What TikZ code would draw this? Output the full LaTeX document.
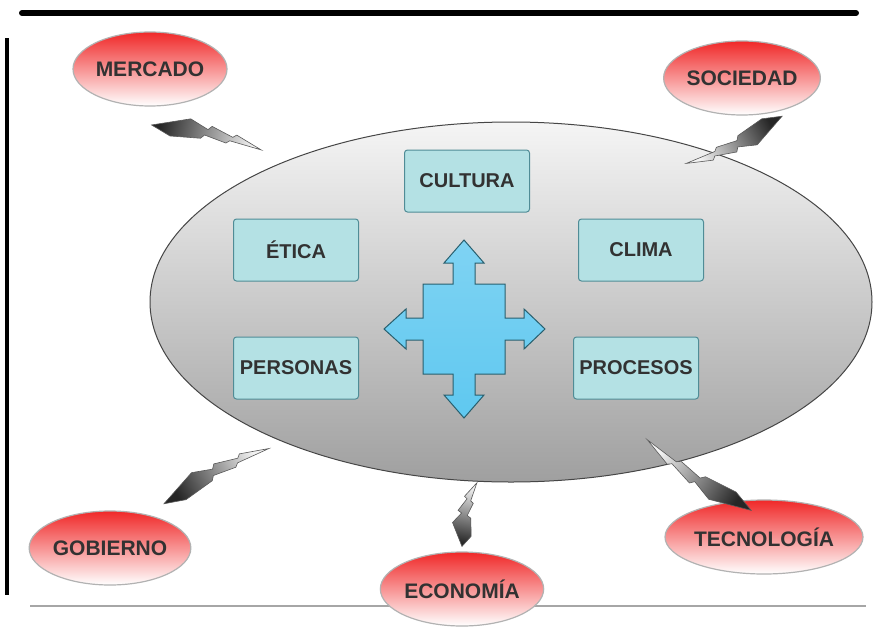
\documentclass[tikz,border=0pt]{standalone}
\usepackage{fontspec}
\setmainfont{Liberation Sans}
\usetikzlibrary{calc,shapes.geometric}

\definecolor{redtop}{RGB}{240,40,40}
\definecolor{redmid}{RGB}{250,175,175}
\definecolor{boxfill}{RGB}{180,225,228}
\definecolor{boxline}{RGB}{80,140,150}
\definecolor{crossfill}{RGB}{95,200,240}
\definecolor{crossline}{RGB}{40,95,110}
\definecolor{txt}{RGB}{50,50,50}

% lightning bolt from #1 (thick end) to #2 (tip)
\newcommand\bolt[2]{%
  \path let \p1=($(#2)-(#1)$) in \pgfextra{%
    \pgfmathsetmacro\bang{atan2(\y1,\x1)}%
    \pgfmathsetmacro\bu{veclen(\x1,\y1)/10}%
    \xdef\boltang{\bang}\xdef\boltu{\bu}};
  \pgfmathsetmacro\boltsh{\boltang-90}
  \begin{scope}[shift={(#1)},rotate=\boltang,x=\boltu pt,y=1pt]
    \draw[draw=gray!70!black,line width=0.6pt,
          top color=gray!10,bottom color=black!85,shading angle=\boltsh]
      (0,-2) -- (3.3,12) -- (5.0,5) -- (5.3,9) -- (7.3,2.5) -- (7.6,5.5)
      -- (10,-4) -- (7.1,-1.5) -- (6.8,-4.5) -- (4.8,-1) -- (4.5,-5)
      -- (1.8,-9) -- cycle;
  \end{scope}}

\begin{document}
\begin{tikzpicture}[x=1pt,y=-1pt,
    org/.style = {ellipse, draw=gray!55!black, line width=1pt,
                  top color=gray!8, bottom color=gray!75,
                  minimum width=722pt, minimum height=360pt},
    force/.style = {ellipse, draw=gray!60, line width=1.2pt,
                    top color=redtop, middle color=redmid, bottom color=white,
                    minimum width=154pt, minimum height=74pt, inner sep=0pt,
                    text=txt, font=\fontsize{21}{24}\selectfont\bfseries},
    factor/.style = {rectangle, rounded corners=3pt, draw=boxline,
                     line width=1pt, fill=boxfill,
                     minimum width=125pt, minimum height=62pt, inner sep=1pt,
                     text=txt, font=\fontsize{20}{24}\selectfont\bfseries}]
  \useasboundingbox (0,0) rectangle (875,635);
  \fill[white] (0,0) rectangle (875,635);

  % frame
  \draw[line width=6pt,line cap=round] (22,13) -- (856,13);
  \draw[line width=4pt] (7,38) -- (7,595);
  \draw[gray!70,line width=1.5pt] (30,606) -- (866,606);

  % organisation
  \node[org] (org) at (511,302) {};

  % inner factors
  \node[factor] (cultura) at (467,181) {CULTURA};
  \node[factor] (etica) at (296,250) {ÉTICA};
  \node[factor] (clima) at (641,250) {CLIMA};
  \node[factor] (personas) at (296,368) {PERSONAS};
  \node[factor] (procesos) at (636,368) {PROCESOS};

  % four-way arrow
  \coordinate (cross) at (464,329);
  \draw[shift={(cross)},draw=crossline,line width=1pt,
        top color=crossfill!80!white,bottom color=crossfill]
    (0,-89) -- (-20,-66) -- (-11,-66) -- (-11,-45) -- (-41,-45) -- (-41,-11)
    -- (-58,-11) -- (-58,-20) -- (-80,0) -- (-58,20) -- (-58,11) -- (-41,11)
    -- (-41,45) -- (-11,45) -- (-11,66) -- (-20,66) -- (0,89) -- (20,66)
    -- (11,66) -- (11,45) -- (41,45) -- (41,11) -- (60,11) -- (60,20)
    -- (81,0) -- (60,-20) -- (60,-11) -- (41,-11) -- (41,-45) -- (11,-45)
    -- (11,-66) -- (20,-66) -- cycle;

  % outer forces
  \node[force] (mercado) at (150,69) {MERCADO};
  \node[force] (sociedad) at (742,78) {SOCIEDAD};
  \node[force] (gobierno) at (110,548) {GOBIERNO};
  \node[force] (economia) at (462,589) {ECONOMÍA};
  \node[force] (tecnologia) at (764,537) {TECNOLOGÍA};

  % bolt ends
  \coordinate (mercado-b) at (152,123);
  \coordinate (mercado-t) at (262,146);
  \coordinate (sociedad-b) at (783,118);
  \coordinate (sociedad-t) at (688,167);
  \coordinate (gobierno-b) at (163,502);
  \coordinate (gobierno-t) at (267,445);
  \coordinate (economia-b) at (460,546);
  \coordinate (economia-t) at (473,482);
  \coordinate (tecnologia-b) at (750,512);
  \coordinate (tecnologia-t) at (645,443);

  \bolt{mercado-b}{mercado-t}
  \bolt{sociedad-b}{sociedad-t}
  \bolt{gobierno-b}{gobierno-t}
  \bolt{economia-b}{economia-t}
  \bolt{tecnologia-b}{tecnologia-t}
\end{tikzpicture}
\end{document}
